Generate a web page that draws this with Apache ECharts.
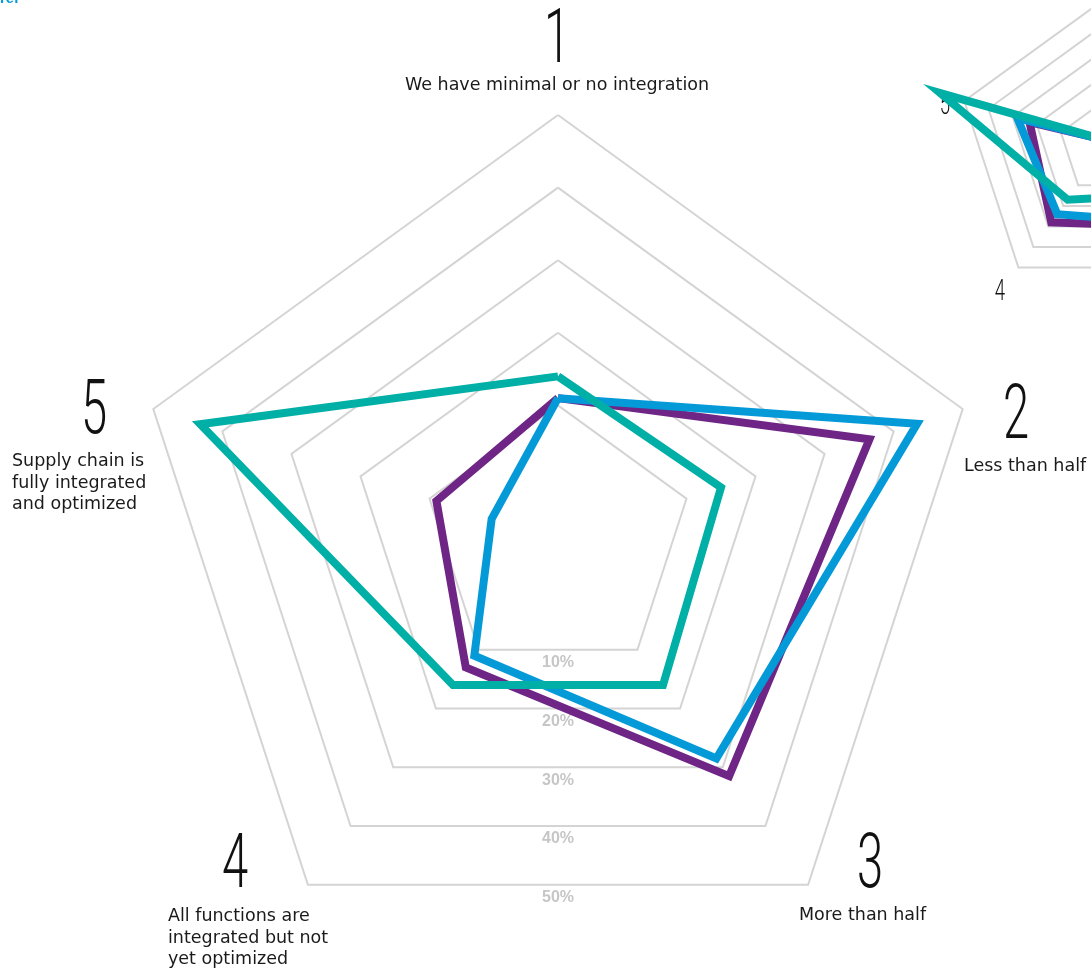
<!DOCTYPE html>
<html>
<head>
<meta charset="utf-8">
<style>
  html, body { margin: 0; padding: 0; background: #fff; }
  #chart { width: 1091px; height: 971px; }
</style>
<script src="https://cdn.jsdelivr.net/npm/echarts@6/dist/echarts.min.js"></script>
</head>
<body>
<div id="chart"></div>
<script>
// axes 1..5, clockwise from the top
const axisNumbers = ['1', '2', '3', '4', '5']
const axisTexts = [
  'We have minimal or no integration',
  'Less than half',
  'More than half',
  'All functions are\nintegrated but not\nyet optimized',
  'Supply chain is\nfully integrated\nand optimized'
]
const ringLabels = ['10%', '20%', '30%', '40%', '50%']
const seriesColors = ['#6e2585', '#049ad8', '#00afa6']

const purpleValues = [11, 36.5, 31.5, 13, 9]
const blueValues = [11, 43.4, 28.5, 11, 1]
const tealValues = [14, 15, 16, 16, 43.2]

// second chart, only its left edge shows in the top right corner
const smallPurpleValues = [-6, 35, 30, 28, 23]
const smallBlueValues = [-6, 40, 28, 24, 28]
const smallTealValues = [-6, 15, 15, 17, 60]

const AXIS_MAX = 50
const main = { cx: 558, cy: 540.5, r0: 62.5, r: 425.5 }
const small = { cx: 1106, cy: 147, r0: 22, r: 149 }

// echarts lays indicators out counter-clockwise, the picture goes clockwise
const order = [0, 4, 3, 2, 1]
const reorder = arr => order.map(i => arr[i])

const gridGrey = '#d4d4d4'

function radarOf(geo) {
  return {
    center: [geo.cx, geo.cy],
    radius: [geo.r0, geo.r],
    startAngle: 90,
    shape: 'polygon',
    splitNumber: 5,
    indicator: reorder(axisNumbers).map(n => ({ name: n, min: 0, max: AXIS_MAX })),
    axisName: { show: false },
    axisLine: { show: false },
    axisTick: { show: false },
    axisLabel: { show: false },
    splitArea: { show: false },
    splitLine: {
      lineStyle: {
        // first split line sits on the inner radius (0%), not drawn
        color: ['rgba(0,0,0,0)', gridGrey, gridGrey, gridGrey, gridGrey, gridGrey],
        width: 2
      }
    }
  }
}

function radarSeries(radarIndex, values, color) {
  return {
    type: 'radar',
    radarIndex: radarIndex,
    symbol: 'none',
    silent: true,
    data: [{ value: reorder(values) }],
    lineStyle: { color: color, width: 8, join: 'miter', miterLimit: 12 },
    areaStyle: { opacity: 0 }
  }
}

const COS36 = Math.cos(Math.PI / 5)

function ringLabelText(geo, fontSize, gap) {
  return ringLabels.map((t, k) => ({
    type: 'text',
    x: geo.cx,
    y: geo.cy + COS36 * (geo.r0 + (k + 1) * (geo.r - geo.r0) / ringLabels.length) + gap,
    style: {
      text: t,
      fill: '#c6c6c6',
      font: 'bold ' + fontSize + 'px "Liberation Sans", Arial, sans-serif',
      textAlign: 'center',
      textVerticalAlign: 'top'
    }
  }))
}

function bigNumber(text, x, y, size) {
  return {
    type: 'text',
    x: x,
    y: y,
    scaleX: 0.62,
    style: {
      text: text,
      fill: '#111',
      font: '300 ' + size + 'px Roboto, sans-serif',
      textAlign: 'center',
      textVerticalAlign: 'middle'
    }
  }
}

function axisText(text, x, y, align) {
  return {
    type: 'text',
    x: x,
    y: y,
    style: {
      text: text,
      fill: '#1a1a1a',
      font: '17.5px "DejaVu Sans", sans-serif',
      lineHeight: 21.5,
      textAlign: align,
      textVerticalAlign: 'top'
    }
  }
}

const numberPos = [[557, 43], [1016, 419], [870, 868], [235, 868], [94, 414]]
const textPos = [[557, 75, 'center'], [964, 456, 'left'], [799, 905, 'left'], [168, 906, 'left'], [12, 451, 'left']]

const graphics = []
axisNumbers.forEach((n, i) => {
  graphics.push(bigNumber(n, numberPos[i][0], numberPos[i][1], 76))
  graphics.push(axisText(axisTexts[i], textPos[i][0], textPos[i][1], textPos[i][2]))
})
graphics.push(...ringLabelText(main, 16, 5))
graphics.push(...ringLabelText(small, 7, 2))
graphics.push(bigNumber('5', 945, 106, 30))
graphics.push(bigNumber('4', 1000, 292, 30))
graphics.push({
  type: 'text',
  x: 0,
  y: -9,
  style: {
    text: 'rer',
    fill: '#049ad8',
    font: 'bold 15px "Liberation Sans", Arial, sans-serif'
  }
})

const chart = echarts.init(document.getElementById('chart'))
chart.setOption({
  animation: false,
  backgroundColor: '#fff',
  radar: [radarOf(main), radarOf(small)],
  graphic: graphics,
  series: [
    radarSeries(0, purpleValues, seriesColors[0]),
    radarSeries(0, blueValues, seriesColors[1]),
    radarSeries(0, tealValues, seriesColors[2]),
    radarSeries(1, smallPurpleValues, seriesColors[0]),
    radarSeries(1, smallBlueValues, seriesColors[1]),
    radarSeries(1, smallTealValues, seriesColors[2])
  ]
})
</script>
</body>
</html>
